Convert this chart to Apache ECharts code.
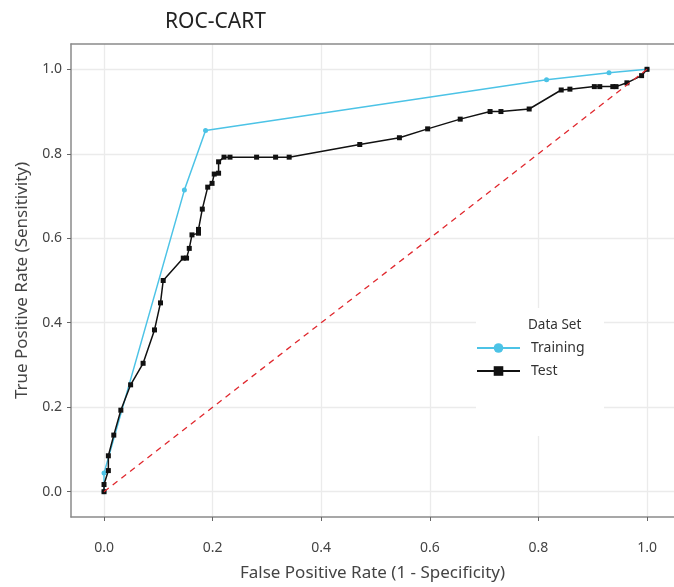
<!DOCTYPE html>
<html>
<head>
<meta charset="utf-8">
<script src="https://cdn.jsdelivr.net/npm/echarts@6/dist/echarts.min.js"></script>
<style>
html,body{margin:0;padding:0;background:#fff;}
#chart{width:674px;height:587px;}
</style>
</head>
<body>
<div id="chart"></div>
<script>
// ROC curve points
var trainFpr = [0, 0, 0.148, 0.187, 0.815, 0.930, 1.0];
var trainTpr = [0, 0.044, 0.714, 0.855, 0.975, 0.992, 1.0];

var testFpr = [0, 0, 0.008, 0.008, 0.018, 0.031, 0.049, 0.072, 0.093, 0.104, 0.109,
    0.146, 0.152, 0.157, 0.162, 0.174, 0.174, 0.181, 0.191, 0.199, 0.203, 0.211,
    0.211, 0.221, 0.232, 0.281, 0.316, 0.341, 0.471, 0.544, 0.596, 0.656, 0.711,
    0.731, 0.783, 0.842, 0.858, 0.903, 0.913, 0.937, 0.943, 0.963, 0.990, 1.0];
var testTpr = [0, 0.017, 0.05, 0.085, 0.134, 0.193, 0.253, 0.304, 0.383, 0.447, 0.50,
    0.553, 0.553, 0.576, 0.608, 0.612, 0.621, 0.669, 0.721, 0.730, 0.752, 0.754,
    0.781, 0.792, 0.792, 0.792, 0.792, 0.792, 0.822, 0.838, 0.859, 0.882, 0.900,
    0.900, 0.906, 0.951, 0.953, 0.959, 0.959, 0.959, 0.959, 0.968, 0.985, 1.0];

var diagX = [0, 1];
var diagY = [0, 1];

var ticks = [0, 0.2, 0.4, 0.6, 0.8, 1.0];

function pairs(xs, ys){
    return xs.map(function(x, i){ return [x, ys[i]]; });
}

var font = 'Noto Sans';
var chart = echarts.init(document.getElementById('chart'));

var option = {
    animation: false,
    title: [{
        text: 'ROC-CART',
        left: 160,
        top: 7,
        textStyle: {fontFamily: font, fontSize: 21, fontWeight: 'normal', color: '#222'}
    },{
        text: 'Data Set',
        left: 523,
        top: 313,
        textStyle: {fontFamily: font, fontSize: 13.5, fontWeight: 'normal', color: '#333'}
    }],
    graphic: [{
        type: 'rect',
        left: 476,
        top: 308,
        z: 1,
        shape: {width: 128, height: 128},
        style: {fill: '#fff'}
    }],
    legend: {
        orient: 'vertical',
        left: 471,
        top: 336,
        itemWidth: 43,
        itemHeight: 12,
        itemGap: 9,
        textStyle: {fontFamily: font, fontSize: 14, color: '#333', padding: [0, 0, 0, 6]},
        data: ['Training', 'Test']
    },
    grid: {left: 71, top: 44, right: 0, bottom: 70, containLabel: false, outerBoundsMode: 'none'},
    xAxis: [{
        type: 'value',
        min: -0.0608,
        max: 1.0497,
        name: 'False Positive Rate (1 - Specificity)',
        nameLocation: 'middle',
        nameGap: 48,
        nameTextStyle: {fontFamily: font, fontSize: 17, color: '#444'},
        axisLine: {onZero: false, lineStyle: {color: '#8a8a8a', width: 1.5}},
        axisTick: {show: true, length: 4, customValues: ticks, lineStyle: {color: '#666'}},
        axisLabel: {customValues: ticks, margin: 24, fontFamily: font, fontSize: 14, color: '#444',
            formatter: function(v){ return v.toFixed(1); }},
        splitLine: {show: true, lineStyle: {color: '#ebebeb', width: 1.3}}
    },{
        type: 'value',
        position: 'top',
        min: -0.0608,
        max: 1.0497,
        axisLine: {onZero: false, lineStyle: {color: '#8a8a8a', width: 1.5}},
        axisTick: {show: false},
        axisLabel: {show: false},
        splitLine: {show: false}
    }],
    yAxis: {
        type: 'value',
        min: -0.0599,
        max: 1.0599,
        name: 'True Positive Rate (Sensitivity)',
        nameLocation: 'middle',
        nameGap: 40,
        nameTextStyle: {fontFamily: font, fontSize: 17, color: '#444'},
        axisLine: {show: true, onZero: false, lineStyle: {color: '#8a8a8a', width: 1.5}},
        axisTick: {show: true, length: 4, customValues: ticks, lineStyle: {color: '#666'}},
        axisLabel: {customValues: ticks, margin: 9, fontFamily: font, fontSize: 14, color: '#444',
            formatter: function(v){ return v.toFixed(1); }},
        splitLine: {show: true, lineStyle: {color: '#ebebeb', width: 1.3}}
    },
    series: [{
        name: 'Training',
        type: 'line',
        data: pairs(trainFpr, trainTpr),
        symbol: 'circle',
        symbolSize: 5,
        color: '#4cc3e6',
        lineStyle: {width: 1.5, color: '#4cc3e6'},
        itemStyle: {color: '#4cc3e6'},
        z: 3
    },{
        name: 'Test',
        type: 'line',
        data: pairs(testFpr, testTpr),
        symbol: 'rect',
        symbolSize: 5,
        color: '#111',
        lineStyle: {width: 1.5, color: '#111'},
        itemStyle: {color: '#111'},
        z: 4
    },{
        name: 'Chance',
        type: 'line',
        data: pairs(diagX, diagY),
        showSymbol: false,
        symbol: 'none',
        lineStyle: {width: 1.3, color: '#e0282e', type: [6, 5]},
        z: 5
    }]
};

chart.setOption(option);
window.addEventListener('resize', function(){ chart.resize(); });
</script>
</body>
</html>
